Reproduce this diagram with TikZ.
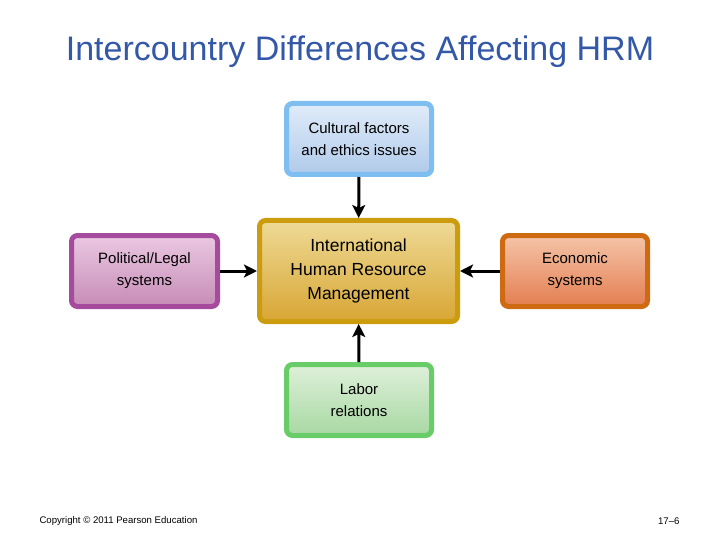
\documentclass[tikz,border=0pt]{standalone}
\usepackage{fontspec}
\setmainfont{Liberation Sans}
\usetikzlibrary{arrows.meta}

\definecolor{titleblue}{RGB}{52,88,168}
\definecolor{culturalline}{RGB}{126,190,240}
\definecolor{culturaltop}{RGB}{224,236,249}
\definecolor{culturalbot}{RGB}{176,202,234}
\definecolor{hrmline}{RGB}{202,156,14}
\definecolor{hrmtop}{RGB}{238,218,150}
\definecolor{hrmbot}{RGB}{216,166,52}
\definecolor{politline}{RGB}{166,74,158}
\definecolor{polittop}{RGB}{234,200,226}
\definecolor{politbot}{RGB}{198,140,182}
\definecolor{econline}{RGB}{206,106,18}
\definecolor{econtop}{RGB}{244,196,168}
\definecolor{econbot}{RGB}{228,126,80}
\definecolor{laborline}{RGB}{104,204,104}
\definecolor{labortop}{RGB}{222,240,218}
\definecolor{laborbot}{RGB}{168,216,162}

\tikzset{
  factor/.style={draw, line width=5pt, rounded corners=6pt, align=center,
    minimum width=145pt, minimum height=71pt, font=\fontsize{15}{22}\selectfont},
  push/.style={line width=3pt, -{Stealth[length=13pt, width=13pt, inset=3pt]}}
}

\begin{document}
\begin{tikzpicture}[x=1pt,y=-1pt]
      \useasboundingbox (0,0) rectangle (720,540);
      \node[text=titleblue, font=\fontsize{34}{38}\selectfont] (title) at (360,52)
        {Intercountry Differences Affecting HRM};

      \node[factor, draw=hrmline, top color=hrmtop, bottom color=hrmbot,
        minimum width=198pt, minimum height=101pt, font=\fontsize{17.5}{24}\selectfont]
        (hrm) at (358.5,271) {International\\Human Resource\\Management};

      \node[factor, draw=culturalline, top color=culturaltop, bottom color=culturalbot]
        (cultural) at (359,139) {Cultural factors\\and ethics issues};
      \node[factor, draw=politline, top color=polittop, bottom color=politbot,
        minimum width=146pt] (political) at (144.5,271) {Political/Legal\\systems};
      \node[factor, draw=econline, top color=econtop, bottom color=econbot]
        (economic) at (575,271) {Economic\\systems};
      \node[factor, draw=laborline, top color=labortop, bottom color=laborbot]
        (labor) at (359,400) {Labor\\relations};

      \draw[push] (cultural) -- (hrm);
      \draw[push] (political) -- (hrm);
      \draw[push] (economic) -- (hrm);
      \draw[push] (labor) -- (hrm);

      \node[font=\fontsize{9.6}{11}\selectfont, anchor=west] (copyright) at (36,521)
        {Copyright \textcopyright{} 2011 Pearson Education};
      \node[font=\fontsize{9.6}{11}\selectfont, anchor=east] (pagenum) at (683,521) {17--6};
    \end{tikzpicture}
\end{document}
